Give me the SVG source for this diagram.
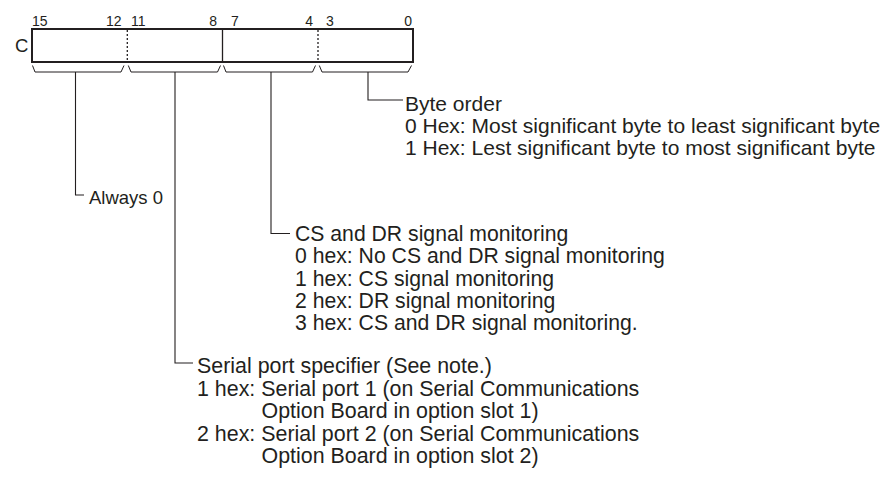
<svg xmlns="http://www.w3.org/2000/svg" width="888" height="481" viewBox="0 0 888 481">
<style>
  text { font-family: "Liberation Sans", Arial, Helvetica, sans-serif; fill: #231f20; }
  .bit { font-size: 14px; }
  .reg { font-size: 18.5px; }
  .t21 { font-size: 21px; }
  .tcs { font-size: 21.2px; }
  .t22 { font-size: 21.4px; }
  .box { fill: #ffffff; stroke: #231f20; stroke-width: 2; }
  .div { stroke: #231f20; stroke-width: 1.3; fill: none; }
  .dot { stroke: #231f20; stroke-width: 1.3; stroke-dasharray: 2 2; fill: none; }
  .brace { stroke: #231f20; stroke-width: 1; fill: none; }
  .lead { stroke: #231f20; stroke-width: 1.1; fill: none; }
</style>
<rect width="888" height="481" fill="#ffffff"/>
<g id="register">
  <text class="reg" x="15" y="52">C</text>
  <rect class="box" x="32" y="29" width="381" height="33"/>
  <line class="dot" x1="127.3" y1="30" x2="127.3" y2="61"/>
  <line class="div" x1="222.5" y1="30" x2="222.5" y2="61"/>
  <line class="dot" x1="318" y1="30" x2="318" y2="61"/>
  <text class="bit" x="32" y="26">15</text>
  <text class="bit" x="121.5" y="26" text-anchor="end">12</text>
  <text class="bit" x="131" y="26">11</text>
  <text class="bit" x="217" y="26" text-anchor="end">8</text>
  <text class="bit" x="231" y="26">7</text>
  <text class="bit" x="313" y="26" text-anchor="end">4</text>
  <text class="bit" x="326" y="26">3</text>
  <text class="bit" x="412" y="26" text-anchor="end">0</text>
  <path class="brace" d="M32.5 65.5 L35 72 L121 72 L124 65.5"/>
  <path class="brace" d="M128.3 65.5 L131 72 L217.5 72 L220.5 65.5"/>
  <path class="brace" d="M223.5 65.5 L226 72 L312.5 72 L315.5 65.5"/>
  <path class="brace" d="M319.3 65.5 L322 72 L408 72 L411.5 65.5"/>
</g>
<g id="connectors">
  <path class="lead" d="M75.5 72 V195 H84"/>
  <path class="lead" d="M175 72 V363 H193"/>
  <path class="lead" d="M271 72 V233.5 H290"/>
  <path class="lead" d="M368 72 V100 H403"/>
</g>
<g id="byte-order">
  <text class="t21" x="405" y="111">Byte order</text>
  <text class="t21" x="405" y="133">0 Hex: Most significant byte to least significant byte</text>
  <text class="t21" x="405" y="155">1 Hex: Lest significant byte to most significant byte</text>
</g>
<g id="always-0">
  <text class="reg" x="89" y="203.5">Always 0</text>
</g>
<g id="cs-dr">
  <text class="tcs" x="295" y="241.3">CS and DR signal monitoring</text>
  <text class="tcs" x="295" y="263.4">0 hex: No CS and DR signal monitoring</text>
  <text class="tcs" x="295" y="285.5">1 hex: CS signal monitoring</text>
  <text class="tcs" x="295" y="307.6">2 hex: DR signal monitoring</text>
  <text class="tcs" x="295" y="329.7">3 hex: CS and DR signal monitoring.</text>
</g>
<g id="serial-port">
  <text class="t22" x="197" y="373">Serial port specifier (See note.)</text>
  <text class="t22" x="197" y="395.5">1 hex: Serial port 1 (on Serial Communications</text>
  <text class="t22" x="261.5" y="418">Option Board in option slot 1)</text>
  <text class="t22" x="197" y="440.5">2 hex: Serial port 2 (on Serial Communications</text>
  <text class="t22" x="261.5" y="463">Option Board in option slot 2)</text>
</g>
</svg>
